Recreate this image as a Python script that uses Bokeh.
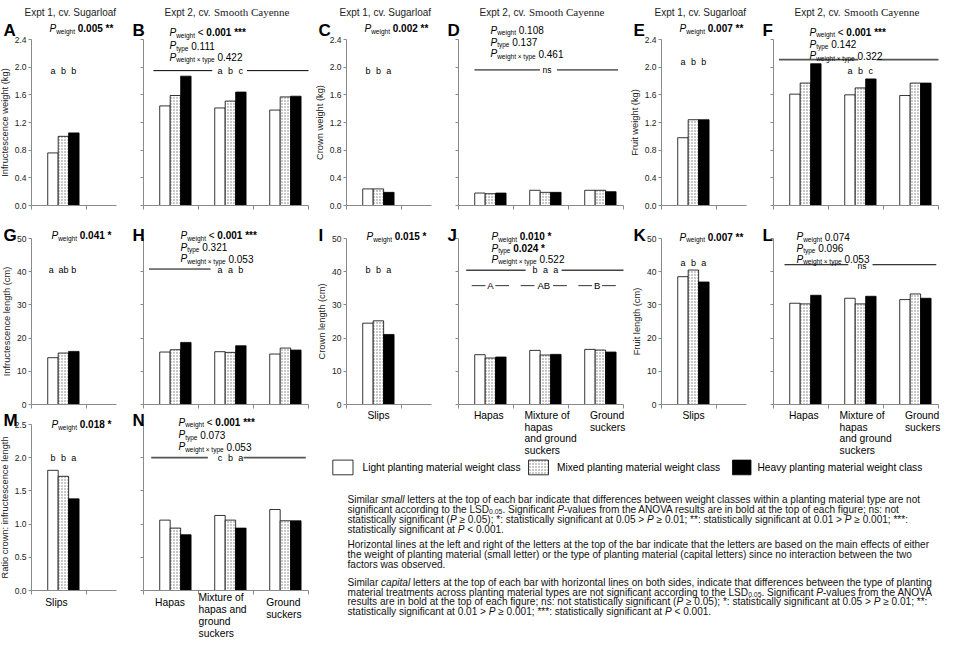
from bokeh.plotting import figure
from bokeh.layouts import row, column
from bokeh.models import Range1d, FixedTicker, PrintfTickFormatter, Label
from bokeh.embed import file_html
from bokeh.resources import INLINE

# ---------------- data ----------------
WEIGHT_CLASSES = ["Light planting material weight class",
                  "Mixed planting material weight class",
                  "Heavy planting material weight class"]
TYPES_E1 = ["Slips"]
TYPES_E2 = ["Hapas", "Mixture of hapas and ground suckers", "Ground suckers"]
LAB_E1 = [["Slips"]]
LAB_E2_ROW2 = [["Hapas"], ["Mixture of", "hapas", "and ground", "suckers"], ["Ground", "suckers"]]
LAB_E2_ROW3 = [["Hapas"], ["Mixture of", "hapas and", "ground", "suckers"], ["Ground", "suckers"]]

YT_W = [0.0, 0.4, 0.8, 1.2, 1.6, 2.0, 2.4]
YT_L = [0, 10, 20, 30, 40, 50]
YT_R = [0.0, 0.5, 1.0, 1.5, 2.0, 2.5]

# values: [light, mixed, heavy] per planting material type
INF_W_E1 = [0.76, 1.00, 1.05]
INF_W_E2 = [[1.44, 1.59, 1.87], [1.41, 1.51, 1.64], [1.38, 1.57, 1.58]]
CROWN_W_E1 = [0.24, 0.24, 0.19]
CROWN_W_E2 = [[0.18, 0.17, 0.18], [0.22, 0.19, 0.19], [0.22, 0.22, 0.20]]
FRUIT_W_E1 = [0.98, 1.24, 1.24]
FRUIT_W_E2 = [[1.61, 1.77, 2.05], [1.60, 1.70, 1.83], [1.59, 1.77, 1.77]]
INF_L_E1 = [14.1, 15.5, 16.0]
INF_L_E2 = [[15.8, 16.5, 18.7], [15.9, 15.7, 17.7], [15.2, 17.0, 16.4]]
CROWN_L_E1 = [24.5, 25.2, 21.1]
CROWN_L_E2 = [[15.0, 14.0, 14.3], [16.3, 14.9, 15.1], [16.6, 16.4, 15.8]]
FRUIT_L_E1 = [38.5, 40.5, 36.9]
FRUIT_L_E2 = [[30.5, 30.3, 32.9], [32.0, 30.3, 32.6], [31.6, 33.3, 32.0]]
RATIO_E1 = [1.81, 1.72, 1.38]
RATIO_E2 = [[1.06, 0.94, 0.84], [1.13, 1.06, 0.94], [1.22, 1.05, 1.05]]

YLAB = {"A": "Infructescence weight (kg)", "C": "Crown weight (kg)", "E": "Fruit weight (kg)",
        "G": "Infructescence length (cm)", "I": "Crown length (cm)", "K": "Fruit length (cm)",
        "M": "Ratio crown: infructescence length"}

# P-values: (subscript, normal part, bold part)
P_A = [("weight", "", "0.005 **")]
P_B = [("weight", "< ", "0.001 ***"), ("type", "0.111", ""), ("weight × type", "0.422", "")]
P_C = [("weight", "", "0.002 **")]
P_D = [("weight", "0.108", ""), ("type", "0.137", ""), ("weight × type", "0.461", "")]
P_E = [("weight", "", "0.007 **")]
P_F = [("weight", "< ", "0.001 ***"), ("type", "0.142", ""), ("weight × type", "0.322", "")]
P_G = [("weight", "", "0.041 *")]
P_H = [("weight", "< ", "0.001 ***"), ("type", "0.321", ""), ("weight × type", "0.053", "")]
P_I = [("weight", "", "0.015 *")]
P_J = [("weight", "", "0.010 *"), ("type", "", "0.024 *"), ("weight × type", "0.522", "")]
P_K = [("weight", "", "0.007 **")]
P_L = [("weight", "0.074", ""), ("type", "0.096", ""), ("weight × type", "0.053", "")]
P_M = [("weight", "", "0.018 *")]
P_N = [("weight", "< ", "0.001 ***"), ("type", "0.073", ""), ("weight × type", "0.053", "")]

LET_A = ["a", "b", "b"]
LET_B = ["a", "b", "c"]
LET_C = ["b", "b", "a"]
LET_E = ["a", "b", "b"]
LET_F = ["a", "b", "c"]
LET_G = ["a", "ab", "b"]
LET_H = ["a", "a", "b"]
LET_I = ["b", "b", "a"]
LET_J = ["b", "a", "a"]
CAP_J = ["A", "AB", "B"]
LET_K = ["a", "b", "a"]
LET_M = ["b", "b", "a"]
LET_N = ["c", "b", "a"]
NS = "ns"

TITLE_E1 = "Expt 1, cv. Sugarloaf"
TITLE_E2 = ("Expt 2, cv. ", "Smooth Cayenne")

PARAS = [
    [[("Similar ", 'n'), ("small", 'i'), (" letters at the top of each bar indicate that differences between weight classes within a planting material type are not", 'n')],
     [("significant according to the LSD", 'n'), ("0.05", 'sub'), (". Significant ", 'n'), ("P", 'i'), ("-values from the ANOVA results are in bold at the top of each figure; ns: not", 'n')],
     [("statistically significant (", 'n'), ("P", 'i'), (" ≥ 0.05); *: statistically significant at 0.05 > ", 'n'), ("P", 'i'), (" ≥ 0.01; **: statistically significant at 0.01 > ", 'n'), ("P", 'i'), (" ≥ 0.001; ***:", 'n')],
     [("statistically significant at ", 'n'), ("P", 'i'), (" < 0.001.", 'n')]],
    [[("Horizontal lines at the left and right of the letters at the top of the bar indicate that the letters are based on the main effects of either", 'n')],
     [("the weight of planting material (small letter) or the type of planting material (capital letters) since no interaction between the two", 'n')],
     [("factors was observed.", 'n')]],
    [[("Similar ", 'n'), ("capital", 'i'), (" letters at the top of each bar with horizontal lines on both sides, indicate that differences between the type of planting", 'n')],
     [("material treatments across planting material types are not significant according to the LSD", 'n'), ("0.05", 'sub'), (". Significant ", 'n'), ("P", 'i'), ("-values from the ANOVA", 'n')],
     [("results are in bold at the top of each figure; ns: not statistically significant (", 'n'), ("P", 'i'), (" ≥ 0.05); *: statistically significant at 0.05 > ", 'n'), ("P", 'i'), (" ≥ 0.01; **:", 'n')],
     [("statistically significant at 0.01 > ", 'n'), ("P", 'i'), (" ≥ 0.001; ***: statistically significant at ", 'n'), ("P", 'i'), (" < 0.001.", 'n')]],
]

# ---------------- text metrics (Arial-compatible) ----------------
FONT = "Liberation Sans"
SERIF = "Liberation Serif"
_W = {' ': 278, '!': 278, '"': 355, '#': 556, '$': 556, '%': 889, '&': 667, "'": 191, '(': 333, ')': 333,
      '*': 389, '+': 584, ',': 278, '-': 333, '.': 278, '/': 278, ':': 278, ';': 278, '<': 584, '=': 584,
      '>': 584, '?': 556, '@': 1015, '≥': 549, '×': 584}
for _c in '0123456789':
    _W[_c] = 556
_W.update(dict(zip('ABCDEFGHIJKLMNOPQRSTUVWXYZ',
                   [667, 667, 722, 722, 667, 611, 778, 722, 278, 500, 667, 556, 833, 722, 778, 667, 778, 722, 667, 611, 722, 667, 944, 667, 667, 611])))
_W.update(dict(zip('abcdefghijklmnopqrstuvwxyz',
                   [556, 556, 500, 556, 556, 278, 556, 556, 222, 222, 500, 222, 833, 556, 556, 556, 556, 333, 500, 278, 556, 500, 722, 500, 500, 500])))
_WB = dict(_W)
_WB.update(dict(zip('abcdefghijklmnopqrstuvwxyz',
                    [556, 611, 556, 611, 556, 333, 611, 611, 278, 278, 556, 278, 889, 611, 611, 611, 611, 389, 556, 333, 611, 556, 778, 556, 556, 500])))
_WT = {'S': 556, 'm': 778, 'o': 500, 't': 278, 'h': 500, ' ': 250, 'C': 667, 'a': 444, 'y': 500, 'e': 444, 'n': 500}


def tw(s, fs, bold=False, serif=False):
    tbl = _WT if serif else (_WB if bold else _W)
    return sum(tbl.get(c, 556) for c in s) / 1000.0 * fs


def rich(p, x, v, segs, fs, yfun, sub_fs=None, sub_dv=2.5, color="black"):
    """Styled segments left-aligned at data x; v = px of cap centre below frame top."""
    sub_fs = sub_fs or fs * 0.65
    base = v + 0.36 * fs
    cum = 0.0
    for text, kind in segs:
        size = sub_fs if kind == 'sub' else fs
        t = text.strip(' ')
        lead = len(text) - len(text.lstrip(' '))
        trail = len(text) - lead - len(t)
        cum += lead * 0.278 * size
        if t:
            style = {'n': 'normal', 'i': 'italic', 'b': 'bold', 'sub': 'normal'}[kind]
            dv = sub_dv if kind == 'sub' else 0.0
            p.add_layout(Label(x=x, y=yfun(base + dv), x_offset=cum, text=t, text_font=FONT,
                               text_font_size=f"{size:.2f}px", text_font_style=style,
                               text_baseline="alphabetic", text_align="left", text_color=color))
            cum += tw(t, size, kind == 'b')
        cum += trail * 0.278 * size


# ---------------- geometry ----------------
PPX = 55.0          # px per category slot
FH = 166            # height of the 0..max value span
GEOM = {"r1": (213, 39, 8), "r2": (199, 25, 8), "r2x": (243, 25, 52), "r3": (227, 12, 49)}
GC = 0.58           # group centre within slot
BW = 0.19           # bar width
AX = "#8a8a8a"
BAR_STYLE = [dict(fill_color="white", line_color="black"),
             dict(fill_color="white", line_color="black", hatch_pattern="dot", hatch_scale=3,
                  hatch_color="#777777", hatch_weight=1),
             dict(fill_color="black", line_color="black")]


def make_panel(key, narrow, geom, ymax, yticks, fmt, width, vals, ptext, p_dx, p_v,
               letters=None, letter_y=None, line=None, title=False, cats=None):
    H, top, bottom = GEOM[geom]
    L = 31 if narrow else 25
    FW = 85 if narrow else 165
    xe = FW / PPX
    ppy = FH / ymax
    p = figure(width=width, height=H,
               x_range=Range1d(-L / PPX, (width - L) / PPX),
               y_range=Range1d(-bottom / ppy, ymax + top / ppy),
               min_border=0, output_backend="svg", toolbar_location=None, tools="")
    p.title.visible = False
    p.outline_line_color = None
    p.grid.visible = False
    p.background_fill_color = "white"
    p.border_fill_color = "white"

    ya = p.yaxis[0]
    ya.fixed_location = 0
    ya.bounds = (0, ymax)
    ya.ticker = FixedTicker(ticks=yticks)
    ya.formatter = PrintfTickFormatter(format=fmt)
    ya.axis_line_color = AX
    ya.major_tick_line_color = AX
    ya.minor_tick_line_color = None
    ya.major_tick_out = 3
    ya.major_tick_in = 0
    ya.major_label_standoff = 2
    ya.major_label_text_font = FONT
    if narrow:
        ya.major_label_text_color = "#222222"
        ya.major_label_text_font_size = "8.5px"
        ya.axis_label = YLAB[key]
        ya.axis_label_text_font = FONT
        ya.axis_label_text_font_size = "9.3px"
        ya.axis_label_text_font_style = "normal"
        ya.axis_label_text_color = "#222222"
        ya.axis_label_standoff = 2
    else:
        ya.major_label_text_color = None

    xa = p.xaxis[0]
    xa.fixed_location = 0
    xa.bounds = (0, xe)
    xa.ticker = FixedTicker(ticks=list(range(int(xe) + 1)))
    xa.major_label_text_color = None
    xa.axis_line_color = AX
    xa.major_tick_line_color = AX
    xa.minor_tick_line_color = None
    xa.major_tick_out = 4
    xa.major_tick_in = 0

    def yfun(v):
        return ymax * (1 - v / FH)

    def xpx(u):  # local fig px -> data x
        return (u - L) / PPX

    groups = vals if isinstance(vals[0], list) else [vals]
    for k in range(3):
        xs = [g + GC + (k - 1) * BW for g in range(len(groups))]
        tops = [grp[k] for grp in groups]
        p.vbar(x=xs, top=tops, bottom=0, width=BW, line_width=0.8, **BAR_STYLE[k])

    for (sub, norm, bold), v in zip(ptext, p_v):
        segs = [("P", 'i'), (sub, 'sub')]
        if norm:
            segs.append((" " + norm, 'n'))
        if bold:
            segs.append(((" " if not norm else "") + bold, 'b'))
        rich(p, p_dx / PPX, v, segs, 10.0, yfun, sub_fs=6.5)

    gi = 0 if narrow else 1
    if letters == NS:
        p.add_layout(Label(x=gi + GC + 0.03, y=letter_y, text="ns", text_font=FONT, text_font_size="8.5px",
                           text_align="center", text_baseline="middle", text_color="black"))
    elif letters:
        for k, t in enumerate(letters):
            p.add_layout(Label(x=gi + GC + (k - 1) * BW + (-0.03 if k == 0 and len(letters[1]) > 1 else 0),
                               y=letter_y, text=t, text_font=FONT,
                               text_font_size="9px", text_align="center", text_baseline="middle",
                               text_color="black"))
    if line:
        y0 = line["y"]
        segx0 = [line["x0"]]
        segx1 = [line["g0"]]
        if line.get("g1") is not None:
            segx0.append(line["g1"])
            segx1.append(line["x1"])
        p.segment(x0=segx0, y0=[y0] * len(segx0), x1=segx1, y1=[y0] * len(segx0),
                  line_color=line["color"], line_width=line["w"])

    pv = {"r1": -15, "r2": -9, "r2x": -9, "r3": -10}[geom]
    p.add_layout(Label(x=xpx(3 if narrow else 14), y=yfun(pv + 0.36 * 17), text=key, text_font=FONT,
                       text_font_size="17px", text_font_style="bold", text_baseline="alphabetic",
                       text_color="black"))
    if title:
        vt = -31
        if narrow:
            p.add_layout(Label(x=xpx(24), y=yfun(vt + 0.36 * 10), text=TITLE_E1, text_font=FONT,
                               text_font_size="10px", text_baseline="alphabetic", text_color="#222222"))
        else:
            p.add_layout(Label(x=xpx(46), y=yfun(vt + 0.36 * 10), text=TITLE_E2[0].strip(), text_font=FONT,
                               text_font_size="10px", text_baseline="alphabetic", text_color="#222222"))
            off = tw(TITLE_E2[0], 10)
            p.add_layout(Label(x=xpx(46), x_offset=off, y=yfun(vt + 0.36 * 10), text=TITLE_E2[1],
                               text_font=SERIF, text_font_size="11px", text_baseline="alphabetic",
                               text_color="#222222"))
    if cats:
        labels, xs, v0s, dv = cats
        for lines, cx, v0 in zip(labels, xs, v0s):
            for j, ln in enumerate(lines):
                p.add_layout(Label(x=cx, y=yfun(FH + v0 + j * dv), text=ln, text_font=FONT,
                                   text_font_size="10.3px", text_align="left", text_baseline="middle",
                                   text_color="black"))
    return p


BLK = dict(color="black", w=1)
GRY = dict(color="#555555", w=1.8)

A = make_panel("A", True, "r1", 2.4, YT_W, "%.1f", 118, INF_W_E1, P_A, 18, [-14.6], LET_A, 1.95, title=True)
B = make_panel("B", False, "r1", 2.4, YT_W, "%.1f", 197, INF_W_E2, P_B, 26, [-10.4, 2.4, 14.2], LET_B, 1.95,
               line=dict(y=1.95, x0=0.18, g0=1.25, g1=1.88, x1=3.0, **BLK), title=True)
C = make_panel("C", True, "r1", 2.4, YT_W, "%.1f", 118, CROWN_W_E1, P_C, 18, [-14.6], LET_C, 1.95, title=True)
D = make_panel("D", False, "r1", 2.4, YT_W, "%.1f", 197, CROWN_W_E2, P_D, 32, [-12.7, -0.7, 10.7], NS, 1.96,
               line=dict(y=1.96, x0=0.29, g0=1.48, g1=1.79, x1=2.9, **BLK), title=True)
E = make_panel("E", True, "r1", 2.4, YT_W, "%.1f", 118, FRUIT_W_E1, P_E, 18, [-14.6], LET_E, 2.07, title=True)
F = make_panel("F", False, "r1", 2.4, YT_W, "%.1f", 198, FRUIT_W_E2, P_F, 36, [-11.0, 1.0, 12.4], LET_F, 1.95,
               line=dict(y=2.11, x0=0.1, g0=1.54, g1=1.875, x1=3.0, **GRY), title=True)

G = make_panel("G", True, "r2", 50, YT_L, "%d", 118, INF_L_E1, P_G, 20, [-6.2], LET_G, 40.6)
Hp = make_panel("H", False, "r2", 50, YT_L, "%d", 197, INF_L_E2, P_H, 37, [-6.2, 5.2, 16.6], LET_H, 40.6,
                line=dict(y=40.8, x0=0.1, g0=1.22, g1=None, x1=None, **BLK))
CATS_R2_N = (LAB_E1, [0.38], [11], 11.5)
CATS_R2_W = (LAB_E2_ROW2, [0.28, 1.2, 2.39], [11, 11, 11], 11.5)
I = make_panel("I", True, "r2x", 50, YT_L, "%d", 118, CROWN_L_E1, P_I, 20, [-5.6], LET_I, 40.5, cats=CATS_R2_N)
J = make_panel("J", False, "r2x", 50, YT_L, "%d", 197, CROWN_L_E2, P_J, 33, [-5.6, 5.9, 17.3], LET_J, 40.4,
               line=dict(y=40.4, x0=0.14, g0=1.22, g1=1.875, x1=3.0, color="#444444", w=1.5), cats=CATS_R2_W)
K = make_panel("K", True, "r2x", 50, YT_L, "%d", 118, FRUIT_L_E1, P_K, 18, [-4.9], LET_K, 42.7, cats=CATS_R2_N)
Lp = make_panel("L", False, "r2x", 50, YT_L, "%d", 198, FRUIT_L_E2, P_L, 23, [-5.6, 5.9, 17.3], NS, 41.7,
                line=dict(y=42.1, x0=0.2, g0=1.36, g1=1.8, x1=2.96, **BLK), cats=CATS_R2_W)

_cy = 35.8
for g, t in enumerate(CAP_J):
    c = g + GC - 0.03 * g
    h0, h1 = (0.17, 0.42) if len(t) > 1 else (0.09, 0.34)
    J.segment(x0=[c - h1, c + h0], y0=[_cy, _cy], x1=[c - h0, c + h1], y1=[_cy, _cy],
              line_color="#333333", line_width=1)
    J.add_layout(Label(x=c, y=_cy, text=t, text_font=FONT, text_font_size="9.5px", text_align="center",
                       text_baseline="middle", text_color="black"))

CATS_R3_N = (LAB_E1, [0.25], [12], 12)
CATS_R3_W = (LAB_E2_ROW3, [0.21, 1.0, 2.23], [12, 7, 12], 12)
M = make_panel("M", True, "r3", 2.5, YT_R, "%.1f", 118, RATIO_E1, P_M, 20, [-3.2], LET_M, 2.0, cats=CATS_R3_N)
N = make_panel("N", False, "r3", 2.5, YT_R, "%.1f", 197, RATIO_E2, P_N, 35, [-5.9, 6.5, 18.5], LET_N, 2.0,
               line=dict(y=2.0, x0=0.14, g0=1.17, g1=1.82, x1=2.95, **GRY), cats=CATS_R3_W)

# ---------------- legend + notes ----------------
TW, TH = 631, 183
T = figure(width=TW, height=TH, x_range=Range1d(0, TW), y_range=Range1d(TH, 0),
           x_axis_type=None, y_axis_type=None, min_border=0, output_backend="svg",
           toolbar_location=None, tools="")
T.title.visible = False
T.outline_line_color = None
T.grid.visible = False

LEG_BOX = [(17.3, 37.5), (213.0, 233.0), (417.0, 435.5)]
LEG_TXT = [47.0, 241.5, 442.0]
for k, name in enumerate(WEIGHT_CLASSES):
    l, r = LEG_BOX[k]
    T.quad(left=[l], right=[r], top=[3.6], bottom=[18.3], line_width=0.8, **BAR_STYLE[k])
    T.add_layout(Label(x=LEG_TXT[k], y=11.0, text=name, text_font=FONT, text_font_size="10.2px",
                       text_baseline="middle", text_color="black"))

widest = max(tw("".join(s for s, _ in ln), 1.0) for para in PARAS for ln in para)
FSP = 592.0 / widest
LINE_Y = [[39.7, 49.5, 59.3, 69.0], [84.6, 94.4, 104.2], [122.7, 132.0, 141.5, 151.0]]
for para, ys in zip(PARAS, LINE_Y):
    for segs, y in zip(para, ys):
        rich(T, 32.0, y, segs, FSP, lambda v: v, sub_fs=FSP * 0.68, sub_dv=2.0, color="#111111")

left = row(column(A, G, M), column(B, Hp, N))
right = column(row(C, D, E, F), row(I, J, K, Lp), T)
root = row(left, right)

with open("out.html", "w", encoding="utf-8") as fh:
    fh.write(file_html(root, INLINE))
